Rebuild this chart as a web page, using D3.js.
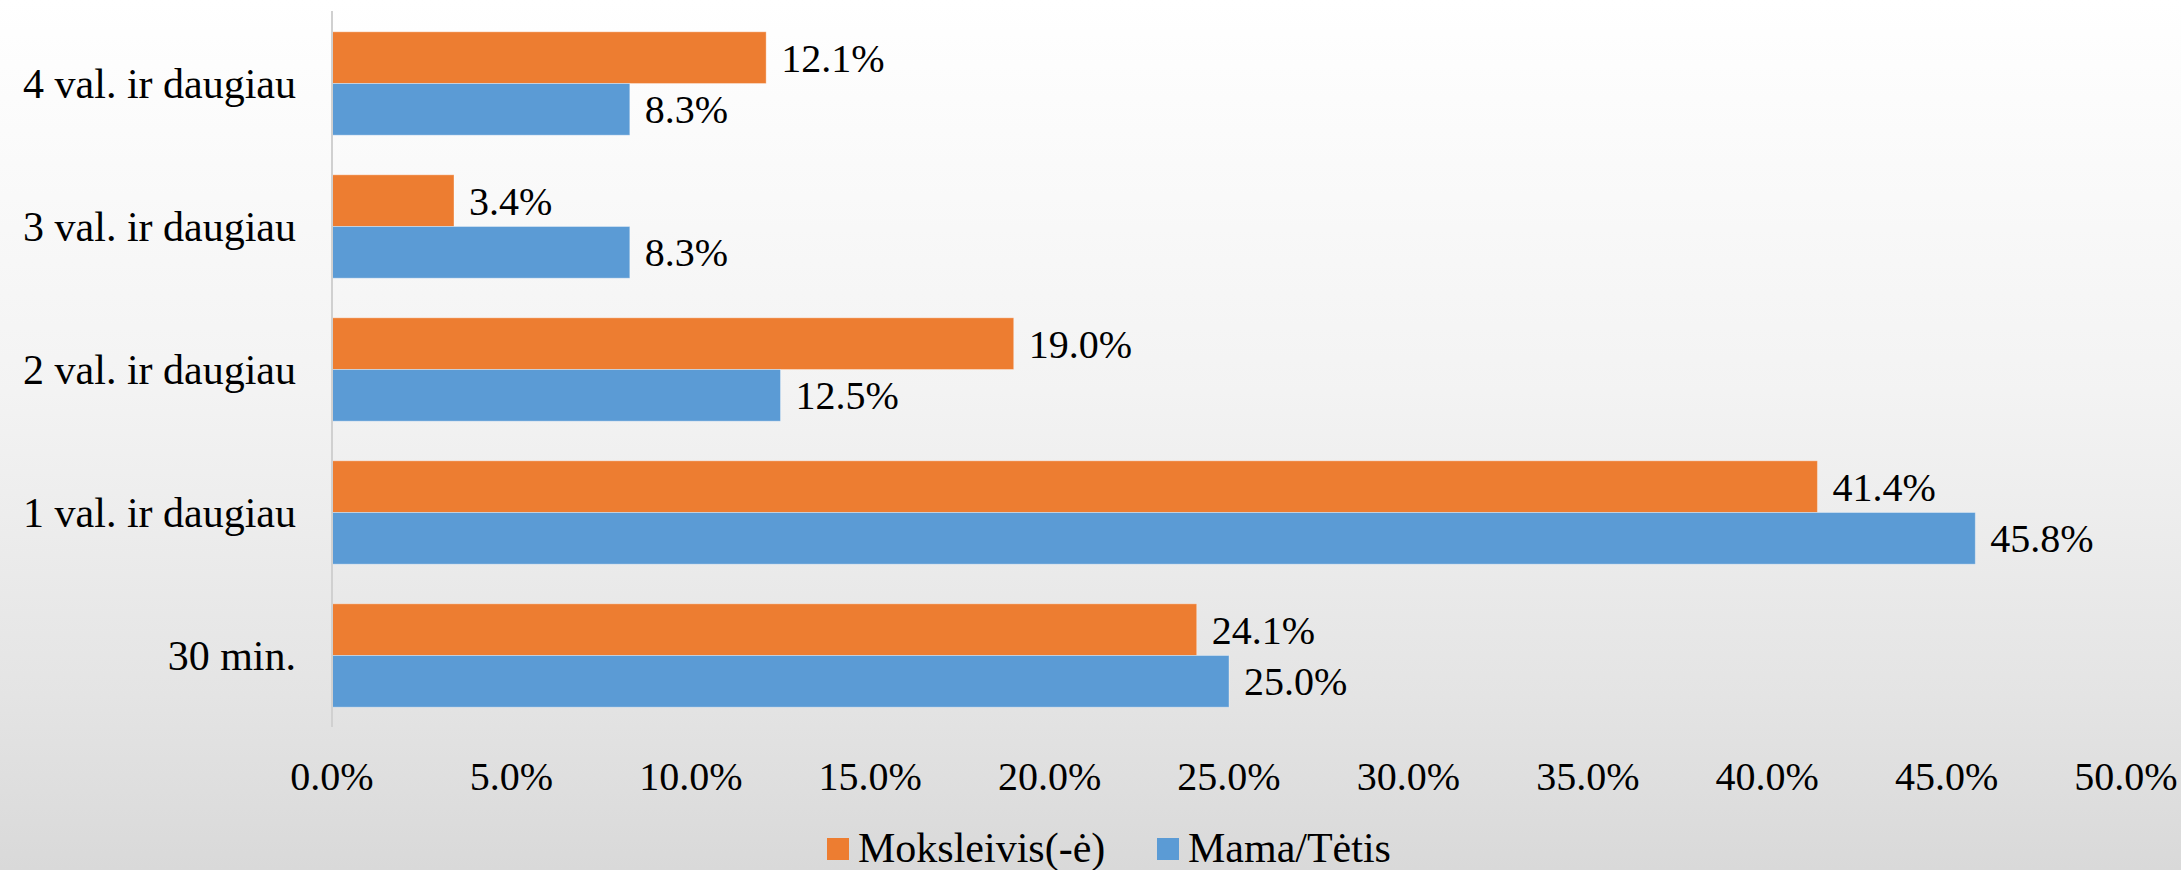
<!DOCTYPE html>
<html>
<head>
<meta charset="utf-8">
<script src="https://cdn.jsdelivr.net/npm/d3@7"></script>
<style>
  body { margin: 0; }
  text { font-family: "Liberation Serif", "Times New Roman", serif; fill: #000; }
</style>
</head>
<body>
<svg width="2181" height="870"></svg>
<script>
var categories = ["4 val. ir daugiau", "3 val. ir daugiau", "2 val. ir daugiau", "1 val. ir daugiau", "30 min."];
var seriesNames = ["Moksleivis(-ė)", "Mama/Tėtis"];
var moksleivis = [12.1, 3.4, 19.0, 41.4, 24.1];
var mamaTetis = [8.3, 8.3, 12.5, 45.8, 25.0];
var xTicks = [0, 5, 10, 15, 20, 25, 30, 35, 40, 45, 50];
var colors = ["#ED7D31", "#5B9BD5"];

var svg = d3.select('svg'),
  width = +svg.attr("width"),
  height = +svg.attr("height");

// background gradient
var grad = svg.append("defs").append("linearGradient")
    .attr("id", "bg")
    .attr("x1", 0).attr("y1", 0).attr("x2", 0).attr("y2", 1);
grad.append("stop").attr("offset", "0%").attr("stop-color", "#ffffff");
grad.append("stop").attr("offset", "45%").attr("stop-color", "#f3f3f3");
grad.append("stop").attr("offset", "80%").attr("stop-color", "#e4e4e4");
grad.append("stop").attr("offset", "100%").attr("stop-color", "#d9d9d9");

svg.append("rect")
    .attr("width", width)
    .attr("height", height)
    .attr("fill", "url(#bg)");

var x = d3.scaleLinear()
    .domain([0, 50])
    .range([332, 2126]);

var y = d3.scaleBand()
    .domain(categories)
    .range([12, 727])
    .paddingInner(0.277)
    .paddingOuter(0.1385);

var ySub = d3.scaleBand()
    .domain([0, 1])
    .range([0, y.bandwidth()]);

var rows = categories.map(function(c, i) {
  return {cat: c, values: [moksleivis[i], mamaTetis[i]]};
});

var groups = svg.append("g")
  .selectAll("g")
  .data(rows)
  .enter().append("g")
    .attr("transform", function(d) { return "translate(0," + y(d.cat) + ")"; });

groups.selectAll("rect")
  .data(function(d) { return d.values; })
  .enter().append("rect")
    .attr("x", x(0))
    .attr("y", function(d, i) { return ySub(i); })
    .attr("width", function(d) { return x(d) - x(0); })
    .attr("height", ySub.bandwidth())
    .attr("fill", function(d, i) { return colors[i]; })
    .attr("stroke", "rgba(255,255,255,0.35)")
    .attr("stroke-width", 1);

groups.selectAll("text")
  .data(function(d) { return d.values; })
  .enter().append("text")
    .attr("x", function(d) { return x(d) + 15; })
    .attr("y", function(d, i) { return ySub(i) + ySub.bandwidth() / 2 + 14; })
    .attr("font-size", 40)
    .text(function(d) { return d.toFixed(1) + "%"; });

// vertical axis line
svg.append("line")
    .attr("x1", x(0)).attr("x2", x(0))
    .attr("y1", 11).attr("y2", 727)
    .attr("stroke", "#d0d0d0")
    .attr("stroke-width", 2);

// category labels
svg.append("g")
  .selectAll("text")
  .data(categories)
  .enter().append("text")
    .attr("x", 296)
    .attr("y", function(d) { return y(d) + y.bandwidth() / 2 + 14; })
    .attr("text-anchor", "end")
    .attr("font-size", 42)
    .text(function(d) { return d; });

// x tick labels
svg.append("g")
  .selectAll("text")
  .data(xTicks)
  .enter().append("text")
    .attr("x", function(d) { return x(d); })
    .attr("y", 790)
    .attr("text-anchor", "middle")
    .attr("font-size", 40)
    .text(function(d) { return d.toFixed(1) + "%"; });

// legend
var legendX = [827, 1157];
var legend = svg.append("g")
  .selectAll("g")
  .data(seriesNames)
  .enter().append("g")
    .attr("transform", function(d, i) { return "translate(" + legendX[i] + ",838)"; });

legend.append("rect")
    .attr("width", 22)
    .attr("height", 22)
    .attr("fill", function(d, i) { return colors[i]; });

legend.append("text")
    .attr("x", 31)
    .attr("y", 24)
    .attr("font-size", 42)
    .text(function(d) { return d; });
</script>
</body>
</html>
